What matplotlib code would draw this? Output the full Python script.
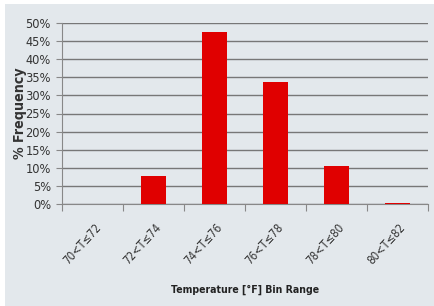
import matplotlib
matplotlib.use("Agg")
import matplotlib.pyplot as plt
from matplotlib.patches import Rectangle

categories = ["70<T≤72", "72<T≤74", "74<T≤76", "76<T≤78", "78<T≤80", "80<T≤82"]
values = [0.0, 7.6, 47.4, 33.8, 10.6, 0.4]
yticks = [0, 5, 10, 15, 20, 25, 30, 35, 40, 45, 50]
ytick_labels = [f"{v}%" for v in yticks]

font = ["DejaVu Sans"]
bg = "#e3e8ec"

fig = plt.figure(figsize=(4.34, 3.06), dpi=100)
fig.patch.set_facecolor("white")
fig.patches.append(Rectangle((5/434, 0), 1, 1 - 4/306, transform=fig.transFigure,
                             facecolor=bg, edgecolor="none", zorder=-10))

ax = fig.add_axes([62/434, 1 - 204/306, 366/434, 181/306])
ax.set_facecolor(bg)
x = list(range(len(categories)))
ax.bar([i + 0.5 for i in x], values, width=0.4, color="#e00000", zorder=3)
ax.set_xlim(0, len(categories))
ax.set_ylim(0, 50)
ax.set_yticks(yticks)
ax.set_yticklabels(ytick_labels, fontfamily=font, fontstretch="condensed", fontsize=9.2, color="#333333")
ax.set_xticks(list(range(len(categories) + 1)))
ax.set_xticklabels([])
ax.set_xticks([i + 0.52 for i in x], minor=True)
ax.set_xticklabels(categories, minor=True, rotation=48, ha="right", va="top",
                   rotation_mode="anchor", fontfamily=font, fontstretch="condensed",
                   fontsize=8.3, color="#333333")
ax.tick_params(axis="x", which="minor", length=0, pad=12)
ax.tick_params(axis="x", which="major", length=5, color="#888888", direction="out")
ax.tick_params(axis="y", length=4, color="#888888", pad=4)
ax.yaxis.grid(True, color="#777777", linewidth=1.0, zorder=0)
for s in ["top", "right"]:
    ax.spines[s].set_visible(False)
ax.spines["left"].set_color("#888888")
ax.spines["bottom"].set_color("#888888")
ax.set_ylabel("% Frequency", fontfamily=font, fontstretch="condensed", fontsize=10.2,
              fontweight="bold", color="#333333")
ax.yaxis.set_label_coords(-0.095, 0.5)
ax.set_xlabel("Temperature [°F] Bin Range", fontfamily=font, fontstretch="condensed",
              fontsize=7.6, fontweight="bold", color="#222222", labelpad=13)

fig.savefig("out.png", dpi=100, facecolor=fig.get_facecolor())
